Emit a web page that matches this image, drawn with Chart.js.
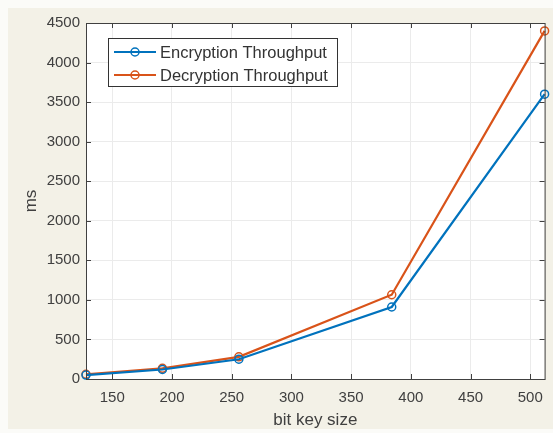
<!DOCTYPE html>
<html>
<head>
<meta charset="utf-8">
<script src="https://cdn.jsdelivr.net/npm/chart.js@4"></script>
<style>
  html, body { margin: 0; padding: 0; background: #fbfbf8; }
  #wrap { width: 553px; height: 433px; }
</style>
</head>
<body>
<div id="wrap"><canvas id="chart" width="553" height="433"></canvas></div>
<script>
const keySizes = [128, 192, 256, 384, 512];
const encryption = [50, 120, 250, 910, 3600];
const decryption = [60, 135, 280, 1065, 4400];
const xTicks = [150, 200, 250, 300, 350, 400, 450, 500];
const yTicks = [0, 500, 1000, 1500, 2000, 2500, 3000, 3500, 4000, 4500];

const BLUE = '#0072BD';
const ORANGE = '#D95319';
const AXIS = '#404040';
const FONT = '"Liberation Sans", Arial, sans-serif';

// background, box, inner ticks, legend inside the axes (MATLAB look)
const matlabLook = {
    id: 'matlabLook',
    beforeDraw(chart) {
        const { ctx, chartArea: a } = chart;
        ctx.save();
        ctx.fillStyle = '#fbfbf8';
        ctx.fillRect(0, 0, chart.width, chart.height);
        ctx.fillStyle = '#f3f1e7';
        ctx.fillRect(8, 8, chart.width - 8, chart.height - 12);
        ctx.fillStyle = '#ffffff';
        ctx.fillRect(a.left, a.top, a.right - a.left, a.bottom - a.top);
        ctx.restore();
    },
    afterDraw(chart) {
        const { ctx, chartArea: a, scales } = chart;
        ctx.save();
        ctx.strokeStyle = AXIS;
        ctx.lineWidth = 1;
        ctx.strokeRect(a.left + 0.5, a.top + 0.5, a.right - a.left, a.bottom - a.top);
        ctx.beginPath();
        xTicks.forEach(v => {
            const px = Math.round(scales.x.getPixelForValue(v)) + 0.5;
            ctx.moveTo(px, a.bottom); ctx.lineTo(px, a.bottom - 5);
            ctx.moveTo(px, a.top); ctx.lineTo(px, a.top + 5);
        });
        yTicks.forEach(v => {
            const py = Math.round(scales.y.getPixelForValue(v)) + 0.5;
            ctx.moveTo(a.left, py); ctx.lineTo(a.left + 5, py);
            ctx.moveTo(a.right, py); ctx.lineTo(a.right - 5, py);
        });
        ctx.stroke();

        // legend box
        const lx = 108, ly = 38, lw = 229, lh = 48;
        ctx.fillStyle = '#ffffff';
        ctx.fillRect(lx, ly, lw, lh);
        ctx.strokeStyle = '#333333';
        ctx.strokeRect(lx + 0.5, ly + 0.5, lw, lh);
        ctx.font = '16.5px ' + FONT;
        ctx.textBaseline = 'middle';
        chart.data.datasets.forEach((ds, i) => {
            const y = ly + 14 + i * 23;
            ctx.strokeStyle = ds.borderColor;
            ctx.lineWidth = 2;
            ctx.beginPath();
            ctx.moveTo(114, y); ctx.lineTo(156, y);
            ctx.stroke();
            ctx.lineWidth = 1.5;
            ctx.beginPath();
            ctx.arc(135, y, 4, 0, Math.PI * 2);
            ctx.stroke();
            ctx.fillStyle = '#333333';
            ctx.fillText(ds.label, 160, y + 1);
        });
        ctx.restore();
    }
};

new Chart(document.getElementById('chart').getContext('2d'), {
    type: 'line',
    data: {
        datasets: [{
            label: 'Encryption Throughput',
            data: keySizes.map((k, i) => ({ x: k, y: encryption[i] })),
            borderColor: BLUE,
            backgroundColor: 'rgba(0,0,0,0)',
            borderWidth: 2.2,
            pointRadius: 4,
            pointBorderWidth: 1.5,
            tension: 0,
            clip: false
        }, {
            label: 'Decryption Throughput',
            data: keySizes.map((k, i) => ({ x: k, y: decryption[i] })),
            borderColor: ORANGE,
            backgroundColor: 'rgba(0,0,0,0)',
            borderWidth: 2.2,
            pointRadius: 4,
            pointBorderWidth: 1.5,
            tension: 0,
            clip: false
        }]
    },
    options: {
        responsive: false,
        animation: false,
        layout: { padding: { left: 0, top: 23, right: 7, bottom: 0 } },
        plugins: { legend: { display: false }, tooltip: { enabled: false } },
        scales: {
            x: {
                type: 'linear',
                min: 128,
                max: 512,
                afterBuildTicks: s => { s.ticks = xTicks.map(v => ({ value: v })); },
                afterFit: s => { s.height = 54; },
                grid: { color: '#ebebeb', drawTicks: false },
                border: { display: false },
                ticks: {
                    padding: 10,
                    color: AXIS,
                    callback: v => String(v),
                    font: { family: FONT, size: 15 }
                },
                title: {
                    display: true,
                    text: 'bit key size',
                    color: AXIS,
                    padding: { top: 0, bottom: 2 },
                    font: { family: FONT, size: 17 }
                }
            },
            y: {
                min: 0,
                max: 4500,
                afterBuildTicks: s => { s.ticks = yTicks.map(v => ({ value: v })); },
                afterFit: s => { s.width = 86; },
                grid: { color: '#ebebeb', drawTicks: false },
                border: { display: false },
                ticks: {
                    padding: 6,
                    color: AXIS,
                    callback: v => String(v),
                    font: { family: FONT, size: 15 }
                },
                title: {
                    display: true,
                    text: 'ms',
                    color: AXIS,
                    padding: { top: 21, bottom: 0 },
                    font: { family: FONT, size: 17 }
                }
            }
        }
    },
    plugins: [matlabLook]
});
</script>
</body>
</html>
